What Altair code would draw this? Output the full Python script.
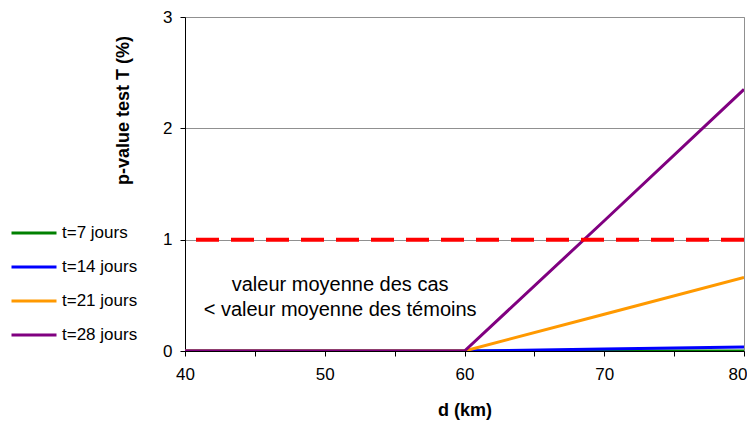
import altair as alt
import pandas as pd

# Data
d_km = [40, 50, 60, 70, 80]
series_names = ["t=7 jours", "t=14 jours", "t=21 jours", "t=28 jours"]
series_colors = ["#008000", "#0000FF", "#FF9900", "#800080"]
p_t7 = [0, 0, 0, 0, 0]
p_t14 = [0, 0, 0, 0.017, 0.035]
p_t21 = [0, 0, 0, 0.33, 0.66]
p_t28 = [0, 0, 0, 1.17, 2.35]
threshold = 1
annotation_lines = ["valeur moyenne des cas", "< valeur moyenne des témoins"]

rows = []
for name, vals in zip(series_names, [p_t7, p_t14, p_t21, p_t28]):
    for x, y in zip(d_km, vals):
        rows.append({"d": x, "p": y, "serie": name})
df = pd.DataFrame(rows)

FONT = "Liberation Sans"

x_scale = alt.Scale(domain=[40, 80], nice=False, zero=False)
y_scale = alt.Scale(domain=[0, 3], nice=False)

lines = alt.Chart(df).mark_line(strokeWidth=3, clip=True).encode(
    x=alt.X("d:Q", scale=x_scale,
            axis=alt.Axis(title="d (km)", values=[40, 45, 50, 55, 60, 65, 70, 75, 80],
                          labelExpr="datum.value % 10 == 0 ? datum.label : ''",
                          labelFlush=False, labelOverlap=False,
                          labelAlign=alt.expr("datum.value == 80 ? 'right' : 'center'"),
                          labelOffset=alt.expr("datum.value == 80 ? 3 : 0"),
                          grid=False, domainColor="black", tickColor="black",
                          tickSize=5, labelPadding=10, labelFontSize=17,
                          labelColor="black", labelFont=FONT,
                          titleFont=FONT, titleFontSize=18, titleFontWeight="bold",
                          titleColor="black", titleY=59, titleBaseline="middle")),
    y=alt.Y("p:Q", scale=y_scale,
            axis=alt.Axis(title="p-value test T (%)", values=[0, 1, 2, 3], format="d",
                          labelFlush=False,
                          grid=True, gridColor="#909090", gridWidth=1,
                          domainColor="black", tickColor="black", tickSize=5,
                          labelPadding=8, labelFontSize=17, labelColor="black",
                          labelFont=FONT, titleFont=FONT, titleFontSize=18,
                          titleFontWeight="bold", titleColor="black",
                          titleX=-62, titleY=93, titleBaseline="middle",
                          titleAngle=270)),
    color=alt.Color("serie:N",
                    scale=alt.Scale(domain=series_names, range=series_colors),
                    legend=alt.Legend(title=None, orient="none", legendX=-160,
                                      legendY=207, symbolType="M-3,0H3",
                                      symbolSize=225, symbolStrokeWidth=3,
                                      labelOffset=19, rowPadding=17,
                                      labelFontSize=17, labelFont=FONT,
                                      labelColor="black", padding=0)),
    order=alt.Order("serie_order:Q"),
).transform_calculate(
    serie_order="indexof(" + str(series_names) + ", datum.serie)"
)

rule = alt.Chart(pd.DataFrame({"y": [threshold]})).mark_rule(
    color="#FF0000", strokeWidth=4, strokeDash=[23, 12]
).encode(y=alt.Y("y:Q", scale=y_scale))

text = alt.Chart(pd.DataFrame({"x": [51.1], "y": [0.59], "t": [annotation_lines]})).mark_text(
    font=FONT, fontSize=20, color="black", align="center", baseline="middle",
    lineHeight=25
).encode(x=alt.X("x:Q", scale=x_scale), y=alt.Y("y:Q", scale=y_scale), text="t")

chart = alt.layer(lines, rule, text).properties(
    width=559, height=334,
    autosize=alt.AutoSizeParams(type="none"),
    padding={"left": 177, "top": 9, "right": 3, "bottom": 70},
).configure_view(stroke="#909090", strokeWidth=1)

chart.save("out.html", embed_options={"renderer": "svg", "actions": False})
